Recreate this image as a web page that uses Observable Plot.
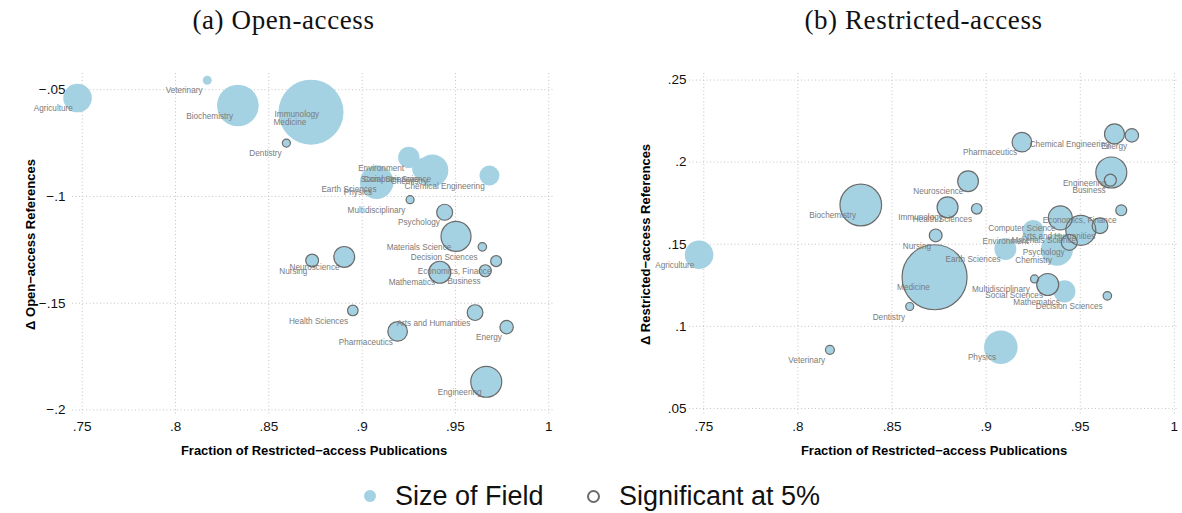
<!DOCTYPE html>
<html>
<head>
<meta charset="utf-8">
<script src="https://cdn.jsdelivr.net/npm/d3@7"></script>
<script src="https://cdn.jsdelivr.net/npm/@observablehq/plot@0.6"></script>
<style>
  body { margin: 0; background: #fff; width: 1182px; height: 513px; position: relative; overflow: hidden;
         font-family: "Liberation Sans", Arial, sans-serif; }
  .title { position: absolute; top: 5px; font-family: "Liberation Serif", "Times New Roman", serif;
           font-size: 27px; color: #111; transform: translateX(-50%); white-space: nowrap; letter-spacing: 0.6px; }
  #left { position: absolute; left: 0; top: 40px; }
  #right { position: absolute; left: 591px; top: 40px; }
  .legtext { position: absolute; top: 479px; font-size: 27px; color: #111; line-height: 34px; white-space: nowrap; }
  .legdot { position: absolute; border-radius: 50%; box-sizing: border-box; }
</style>
</head>
<body>
<div class="title" style="left:283.5px">(a) Open-access</div>
<div class="title" style="left:923.5px">(b) Restricted-access</div>
<div id="left"></div>
<div id="right"></div>
<div class="legdot" style="left:364px;top:490px;width:12px;height:12px;background:#a5d2e2"></div>
<div class="legtext" style="left:395px">Size of Field</div>
<div class="legdot" style="left:587px;top:490px;width:13px;height:13px;border:2px solid #6b6b6b"></div>
<div class="legtext" style="left:619px">Significant at 5%</div>
<script>
// ---- data ----
const fields = ["Agriculture", "Veterinary", "Biochemistry", "Immunology", "Medicine", "Dentistry",
  "Nursing", "Health Sciences", "Neuroscience", "Pharmaceutics", "Chemical Engineering", "Energy",
  "Engineering", "Business", "Economics, Finance", "Computer Science", "Arts and Humanities",
  "Materials Science", "Environment", "Psychology", "Chemistry", "Earth Sciences", "Multidisciplinary",
  "Social Sciences", "Mathematics", "Decision Sciences", "Physics"];

// Fraction of restricted-access publications (x, shared by both panels)
const fracRestricted = [0.7475, 0.8170, 0.8334, 0.8795, 0.8726, 0.8594,
  0.8732, 0.8950, 0.8904, 0.9190, 0.9682, 0.9774,
  0.9665, 0.9660, 0.9718, 0.9394, 0.9605,
  0.9503, 0.9250, 0.9442, 0.9376, 0.9102, 0.9257,
  0.9327, 0.9416, 0.9644, 0.9078];

// Field size (relative number of publications)
const fieldSize = [204, 20, 433, 110, 1056, 16,
  41, 28, 108, 96, 100, 45,
  240, 36, 30, 144, 62,
  225, 114, 64, 256, 121, 16,
  121, 121, 18, 282];

// Panel (a): Δ open-access references
const deltaOpen = [-0.0539, -0.0456, -0.0574, -0.0567, -0.0605, -0.0750,
  -0.1300, -0.1534, -0.1283, -0.1632, -0.0902, -0.1612,
  -0.1868, -0.1348, -0.1303, -0.0871, -0.1544,
  -0.1187, -0.0817, -0.1074, -0.0878, -0.0918, -0.1015,
  -0.0871, -0.1355, -0.1236, -0.0933];
const sigOpen = [0, 0, 0, 0, 0, 1,
  1, 1, 1, 1, 0, 1,
  1, 1, 1, 0, 1,
  1, 0, 1, 0, 0, 1,
  0, 1, 1, 0];

// Panel (b): Δ restricted-access references
const deltaRestricted = [0.1436, 0.0857, 0.1739, 0.1725, 0.1299, 0.1121,
  0.1554, 0.1716, 0.1884, 0.2122, 0.2172, 0.2163,
  0.1937, 0.1890, 0.1707, 0.1661, 0.1613,
  0.1585, 0.1583, 0.1512, 0.1467, 0.1471, 0.1289,
  0.1255, 0.1213, 0.1186, 0.0873];
const sigRestricted = [0, 1, 1, 1, 1, 1,
  1, 1, 1, 1, 1, 1,
  1, 1, 1, 1, 1,
  1, 0, 1, 0, 0, 1,
  1, 0, 1, 0];

const xTicks = [0.75, 0.8, 0.85, 0.9, 0.95, 1];
const xTickLabels = [".75", ".8", ".85", ".9", ".95", "1"];
const yTicksOpen = [-0.05, -0.1, -0.15, -0.2];
const yTickLabelsOpen = ["\u2212.05", "\u2212.1", "\u2212.15", "\u2212.2"];
const yTicksRestricted = [0.25, 0.2, 0.15, 0.1, 0.05];
const yTickLabelsRestricted = [".25", ".2", ".15", ".1", ".05"];

const xTitle = "Fraction of Restricted\u2212access Publications";
const yTitleOpen = "\u0394 Open\u2212access References";
const yTitleRestricted = "\u0394 Restricted\u2212access References";

const FILL = "#a5d2e2";
const OUTLINE = "#6b6b6b";
const GRID = "#c4c4c4";

function panel({y, sig, yDomain, xDomain, yTicks, yTickLabels, yTitle, marginLeft, marginRight, yPad, yTitleDx}) {
  const rows = fields.map((f, i) => ({field: f, x: fracRestricted[i], y: y[i], size: fieldSize[i], sig: sig[i]}));
  return Plot.plot({
    width: 591, height: 430,
    marginTop: 33, marginBottom: 55, marginLeft, marginRight,
    x: {domain: xDomain},
    y: {domain: yDomain},
    r: {type: "sqrt", domain: [0, d3.max(fieldSize)], range: [0, 32.5]},
    style: {fontFamily: "'Liberation Sans', Arial, sans-serif", background: "white", overflow: "visible"},
    marks: [
      Plot.gridX({ticks: xTicks, stroke: GRID, strokeOpacity: 1, strokeDasharray: "1,2.5", strokeWidth: 1}),
      Plot.gridY({ticks: yTicks, stroke: GRID, strokeOpacity: 1, strokeDasharray: "1,2.5", strokeWidth: 1}),
      Plot.axisX({ticks: xTicks, tickSize: 0, tickPadding: 6, fontSize: 13.5, fill: "#111", label: null,
        tickFormat: d => xTickLabels[xTicks.indexOf(d)]}),
      Plot.axisY({ticks: yTicks, tickSize: 0, tickPadding: yPad, fontSize: 13.5, fill: "#111", label: null,
        tickFormat: d => yTickLabels[yTicks.indexOf(d)]}),
      Plot.dot(rows, {x: "x", y: "y", r: "size", fill: FILL, stroke: "none", sort: null}),
      Plot.text(rows, {x: "x", y: "y", text: "field", textAnchor: "end", dx: -4.7, dy: 10.5,
        fontSize: 8.2, fill: "#7a7a7a"}),
      Plot.dot(rows.filter(d => d.sig), {x: "x", y: "y", r: "size", fill: "none", stroke: OUTLINE, strokeWidth: 1.2, sort: null}),
      Plot.text([yTitle], {frameAnchor: "left", textAnchor: "middle", dx: yTitleDx, rotate: -90, text: d => d,
        fontWeight: "bold", fontSize: 13, fill: "#000"}),
      Plot.text([xTitle], {frameAnchor: "bottom", textAnchor: "middle", lineAnchor: "middle", dy: 35, text: d => d,
        fontWeight: "bold", fontSize: 13, fill: "#000"})
    ]
  });
}

document.getElementById("left").append(panel({
  y: deltaOpen, sig: sigOpen,
  yDomain: [-0.2026, -0.0424], xDomain: [0.7448, 1.0036],
  yTicks: yTicksOpen, yTickLabels: yTickLabelsOpen, yTitle: yTitleOpen,
  marginLeft: 72, marginRight: 36, yPad: 7, yTitleDx: -42
}));
document.getElementById("right").append(panel({
  y: deltaRestricted, sig: sigRestricted,
  yDomain: [0.0457, 0.254], xDomain: [0.7424, 1.0022],
  yTicks: yTicksRestricted, yTickLabels: yTickLabelsRestricted, yTitle: yTitleRestricted,
  marginLeft: 98, marginRight: 4, yPad: 3, yTitleDx: -44
}));
</script>
</body>
</html>
